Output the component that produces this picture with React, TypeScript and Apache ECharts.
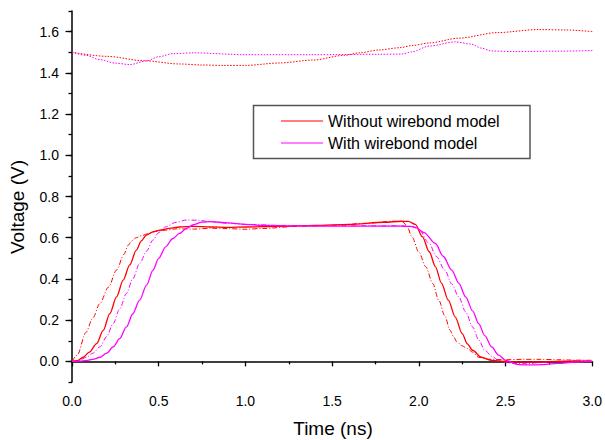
import React, { useEffect, useRef } from 'react';
import * as echarts from 'echarts';

// ---- Data (Time in ns, Voltage in V) ----
const redSolidX = [0, 0.03, 0.065, 0.1, 0.142, 0.18, 0.218, 0.257, 0.295, 0.333, 0.371, 0.4, 0.429, 0.47, 0.506, 0.56, 0.62, 0.7, 0.8, 0.9, 1.0, 1.2, 1.4, 1.6, 1.8, 1.9, 1.94, 1.98, 2.02, 2.06, 2.096, 2.13, 2.17, 2.21, 2.25, 2.28, 2.31, 2.36, 2.42, 2.5, 2.6, 2.7, 2.8, 2.9, 3.0];
const redSolidY = [0, 0.003, 0.02, 0.045, 0.086, 0.15, 0.232, 0.313, 0.394, 0.468, 0.54, 0.585, 0.613, 0.63, 0.637, 0.645, 0.652, 0.655, 0.652, 0.65, 0.652, 0.655, 0.66, 0.665, 0.675, 0.68, 0.679, 0.665, 0.605, 0.532, 0.459, 0.38, 0.297, 0.215, 0.135, 0.085, 0.054, 0.02, 0.005, 0.0, -0.004, -0.003, 0.0, 0.001, 0.0];

const redDashX = [0, 0.03, 0.08, 0.12, 0.16, 0.21, 0.257, 0.3, 0.324, 0.345, 0.37, 0.4, 0.44, 0.48, 0.54, 0.6, 0.7, 0.8, 0.9, 1.0, 1.1, 1.3, 1.5, 1.7, 1.85, 1.905, 1.93, 1.96, 2.0, 2.04, 2.08, 2.115, 2.15, 2.18, 2.2, 2.22, 2.25, 2.28, 2.31, 2.345, 2.4, 2.5, 2.6, 2.7, 2.8, 2.9, 3.0];
const redDashY = [0, 0.03, 0.14, 0.21, 0.28, 0.36, 0.443, 0.52, 0.564, 0.585, 0.6, 0.61, 0.62, 0.63, 0.637, 0.643, 0.642, 0.646, 0.644, 0.641, 0.645, 0.655, 0.66, 0.67, 0.68, 0.678, 0.66, 0.605, 0.53, 0.459, 0.378, 0.297, 0.22, 0.151, 0.12, 0.094, 0.075, 0.062, 0.045, 0.02, 0.01, 0.008, 0.01, 0.01, 0.008, 0.006, 0.005];

const magDashX = [0, 0.04, 0.084, 0.12, 0.161, 0.2, 0.237, 0.275, 0.314, 0.35, 0.39, 0.43, 0.467, 0.5, 0.54, 0.6, 0.66, 0.72, 0.8, 0.9, 1.0, 1.2, 1.4, 1.6, 1.8, 1.9, 1.96, 2.0, 2.06, 2.1, 2.15, 2.19, 2.23, 2.27, 2.31, 2.345, 2.38, 2.42, 2.46, 2.5, 2.55, 2.62, 2.7, 2.8, 2.9, 3.0];
const magDashY = [0, 0.005, 0.02, 0.04, 0.07, 0.12, 0.183, 0.255, 0.33, 0.4, 0.475, 0.535, 0.589, 0.625, 0.653, 0.675, 0.686, 0.685, 0.678, 0.67, 0.665, 0.66, 0.658, 0.658, 0.658, 0.658, 0.655, 0.64, 0.572, 0.51, 0.443, 0.375, 0.313, 0.24, 0.167, 0.105, 0.054, 0.025, 0.005, -0.005, -0.011, -0.011, -0.006, 0.0, 0.003, 0.002];

const magSolidX = [0, 0.04, 0.084, 0.12, 0.161, 0.2, 0.237, 0.275, 0.314, 0.35, 0.39, 0.43, 0.467, 0.5, 0.54, 0.58, 0.62, 0.66, 0.7, 0.75, 0.8, 0.9, 1.0, 1.1, 1.3, 1.5, 1.7, 1.9, 1.95, 1.98, 2.03, 2.096, 2.14, 2.19, 2.23, 2.27, 2.31, 2.345, 2.38, 2.42, 2.46, 2.5, 2.575, 2.65, 2.7, 2.8, 2.9, 3.0];
const magSolidY = [0, 0.001, 0.005, 0.01, 0.02, 0.04, 0.07, 0.11, 0.167, 0.23, 0.297, 0.37, 0.443, 0.5, 0.556, 0.595, 0.621, 0.645, 0.663, 0.676, 0.678, 0.672, 0.665, 0.66, 0.657, 0.656, 0.656, 0.656, 0.655, 0.65, 0.625, 0.572, 0.51, 0.443, 0.38, 0.313, 0.245, 0.183, 0.125, 0.07, 0.03, 0.005, -0.016, -0.017, -0.016, -0.01, -0.004, 0.0];

const redDotX = [0, 0.2, 0.41, 0.62, 0.75, 0.87, 1.0, 1.2, 1.39, 1.57, 1.66, 1.77, 1.89, 1.96, 2.06, 2.23, 2.45, 2.69, 2.85, 3.0];
const redDotY = [1.5, 1.48, 1.459, 1.443, 1.438, 1.436, 1.436, 1.448, 1.462, 1.485, 1.497, 1.511, 1.522, 1.532, 1.545, 1.568, 1.595, 1.61, 1.608, 1.6];

const magDotX = [0, 0.08, 0.16, 0.25, 0.333, 0.43, 0.5, 0.58, 0.7, 1.0, 1.39, 1.77, 1.9, 1.96, 2.06, 2.21, 2.3, 2.36, 2.42, 2.55, 2.8, 3.0];
const magDotY = [1.5, 1.485, 1.464, 1.447, 1.44, 1.458, 1.478, 1.493, 1.497, 1.488, 1.488, 1.49, 1.491, 1.502, 1.53, 1.55, 1.54, 1.52, 1.506, 1.503, 1.505, 1.508];

const xTicks = [0, 0.5, 1.0, 1.5, 2.0, 2.5, 3.0];
const yMajorTicks = [0, 0.2, 0.4, 0.6, 0.8, 1.0, 1.2, 1.4, 1.6];

const legendNames = ['Without wirebond model', 'With wirebond model'];

const zip = (xs: number[], ys: number[]) => xs.map((x, i) => [x, ys[i]]);

const FONT = 'Liberation Sans, Arial, sans-serif';
const RED = '#ff0000';
const MAG = '#ff00ff';

export default function App() {
  const ref = useRef<HTMLDivElement>(null);

  useEffect(() => {
    const chart = echarts.init(ref.current!, null, { renderer: 'svg' });
    const lineSeries = (name: string, xs: number[], ys: number[], color: string, type: any, width: number) => ({
      name,
      type: 'line',
      data: zip(xs, ys),
      symbol: 'none',
      smooth: 0.3,
      smoothMonotone: 'x',
      xAxisIndex: 0,
      yAxisIndex: 0,
      lineStyle: { color, width, type },
      itemStyle: { color },
    });
    const axisColor = '#000';
    chart.setOption({
      animation: false,
      backgroundColor: '#fff',
      grid: { left: 72, right: 11, top: 11, bottom: 58, containLabel: false },
      legend: {
        data: legendNames,
        orient: 'vertical',
        left: 281,
        top: 113,
        padding: 0,
        icon: 'rect',
        itemWidth: 42,
        itemHeight: 1.2,
        itemGap: 6,
        borderWidth: 0,
        textStyle: { fontFamily: FONT, fontSize: 16, color: '#000', lineHeight: 16, padding: [0, 0, 0, 0] },
      },
      xAxis: {
        type: 'value',
        min: 0,
        max: 3,
        interval: 0.5,
        axisLine: { show: true, lineStyle: { color: axisColor, width: 1.5 } },
        axisTick: { show: true, inside: false, length: 5, lineStyle: { color: axisColor, width: 1.3 } },
        minorTick: { show: true, splitNumber: 2, length: 3, lineStyle: { color: axisColor, width: 1.3 } },
        splitLine: { show: false },
        minorSplitLine: { show: false },
        axisLabel: {
          margin: 12,
          fontFamily: FONT,
          fontSize: 14,
          color: '#000',
          customValues: xTicks,
          formatter: (v: number) => v.toFixed(1),
        },
      },
      yAxis: [
        {
          type: 'value',
          min: -0.1,
          max: 1.7,
          interval: 0.1,
          axisLine: { show: true, onZero: false, lineStyle: { color: axisColor, width: 1.5 } },
          axisTick: { show: true, inside: false, length: 3.5, lineStyle: { color: axisColor, width: 1.3 } },
          splitLine: { show: false },
          axisLabel: {
            margin: 13,
            fontFamily: FONT,
            fontSize: 14,
            color: '#000',
            customValues: yMajorTicks,
            formatter: (v: number) => v.toFixed(1),
          },
        },
        {
          type: 'value',
          position: 'left',
          min: -0.1,
          max: 1.7,
          interval: 0.1,
          axisLine: { show: false },
          axisTick: { show: true, inside: false, length: 6.5, customValues: yMajorTicks, lineStyle: { color: axisColor, width: 1.3 } },
          splitLine: { show: false },
          axisLabel: { show: false },
        },
      ],
      graphic: [
        {
          type: 'rect',
          z: -1,
          shape: { x: 253.5, y: 105.5, width: 276.5, height: 53 },
          style: { fill: '#fff', stroke: '#555', lineWidth: 1.5 },
        },
        {
          type: 'text',
          x: 333,
          y: 428,
          style: { text: 'Time (ns)', fontFamily: FONT, fontSize: 19, fill: '#000', textAlign: 'center', textVerticalAlign: 'middle' },
        },
        {
          type: 'text',
          x: 17,
          y: 207,
          rotation: Math.PI / 2,
          style: { text: 'Voltage (V)', fontFamily: FONT, fontSize: 19, fill: '#000', textAlign: 'center', textVerticalAlign: 'middle' },
        },
      ],
      series: [
        lineSeries('Red dotted', redDotX, redDotY, RED, [1.5, 1.5], 1),
        lineSeries('Magenta dotted', magDotX, magDotY, MAG, [1.5, 1.5], 1),
        lineSeries('Red dash-dot', redDashX, redDashY, RED, [5, 2, 1, 2], 1),
        lineSeries('Magenta dash-dot', magDashX, magDashY, MAG, [5, 2, 1, 2], 1),
        lineSeries(legendNames[0], redSolidX, redSolidY, RED, 'solid', 1.3),
        lineSeries(legendNames[1], magSolidX, magSolidY, MAG, 'solid', 1.3),
      ],
    });
    return () => chart.dispose();
  }, []);

  return <div ref={ref} style={{ position: 'fixed', left: 0, top: 0, width: 605, height: 440 }} />;
}
